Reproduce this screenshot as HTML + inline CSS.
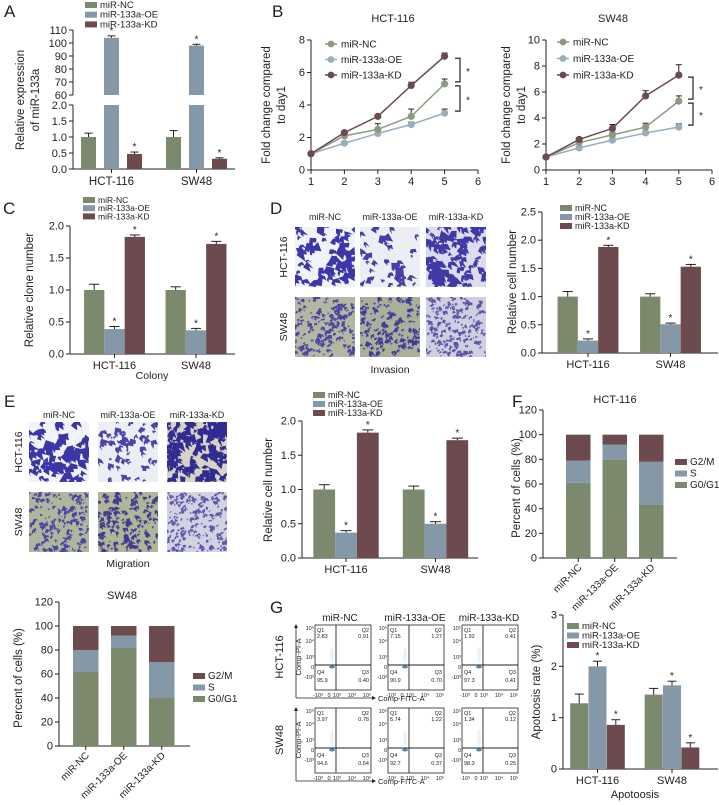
<!DOCTYPE html>
<html><head><meta charset="utf-8"><style>
html,body{margin:0;padding:0;background:#fff}
svg{display:block;font-family:"Liberation Sans",sans-serif}
</style></head><body>
<svg id="fig" width="719" height="805" viewBox="0 0 719 805"></svg>
<script>
// ---------- data ----------
const groups=["HCT-116","SW48"];
const seriesNames=["miR-NC","miR-133a-OE","miR-133a-KD"];
// A
const aNC=[1.0,1.0], aOE=[104,98], aKD=[0.47,0.32];
const aNCerr=[0.12,0.2], aOEerr=[1.5,1.0], aKDerr=[0.06,0.03];
const aTicksUp=[60,70,80,90,100,110], aTicksLow=[0,0.5,1,1.5,2];
// B
const days=[1,2,3,4,5];
const bHctNC=[1,2.1,2.5,3.3,5.3], bHctOE=[1,1.65,2.25,2.8,3.5], bHctKD=[1,2.3,3.3,5.2,7.0];
const bHctNCerr=[0,0.1,0.35,0.45,0.3], bHctOEerr=[0,0.1,0.2,0.15,0.25], bHctKDerr=[0,0.1,0.1,0.2,0.2];
const bSwNC=[1,2.1,2.7,3.3,5.3], bSwOE=[1,1.7,2.3,2.85,3.3], bSwKD=[1,2.35,3.2,5.7,7.3];
const bSwNCerr=[0,0.1,0.2,0.3,0.4], bSwOEerr=[0,0.1,0.15,0.15,0.25], bSwKDerr=[0,0.15,0.3,0.4,0.8];
const bHctYTicks=[0,2,4,6,8], bSwYTicks=[0,2,4,6,8,10], bXTicks=[1,2,3,4,5,6];
// C
const cNC=[1.0,1.0], cOE=[0.39,0.37], cKD=[1.83,1.72];
const cNCerr=[0.09,0.05], cOEerr=[0.04,0.03], cKDerr=[0.03,0.04];
const cTicks=[0,0.5,1,1.5,2];
// D
const dNC=[1.0,1.0], dOE=[0.22,0.51], dKD=[1.88,1.53];
const dNCerr=[0.09,0.05], dOEerr=[0.03,0.02], dKDerr=[0.03,0.04];
const dTicks=[0,0.5,1,1.5,2,2.5];
// E
const eNC=[1.0,1.0], eOE=[0.37,0.50], eKD=[1.83,1.72];
const eNCerr=[0.07,0.05], eOEerr=[0.03,0.03], eKDerr=[0.04,0.03];
const eTicks=[0,0.5,1,1.5,2];
// F (cell cycle)
const cycleCats=["miR-NC","miR-133a-OE","miR-133a-KD"];
const phaseNames=["G2/M","S","G0/G1"];
const fHctG0=[61,80,43], fHctS=[18,12,35], fHctG2=[21,8,22];
const fSwG0=[62,82,40], fSwS=[18,10,30], fSwG2=[20,8,30];
const fTicks=[0,20,40,60,80,100,120];
// G
const gNC=[1.28,1.45], gOE=[2.0,1.63], gKD=[0.86,0.42];
const gNCerr=[0.18,0.12], gOEerr=[0.1,0.08], gKDerr=[0.1,0.09];
const gTicks=[0,1,2,3];
const flowQ1=[["2.83","7.15","1.92"],["3.97","5.74","1.34"]];
const flowQ2=[["0.91","1.27","0.41"],["0.78","1.22","0.12"]];
const flowQ3=[["0.40","0.70","0.41"],["0.64","0.37","0.25"]];
const flowQ4=[["95.9","90.9","97.3"],["94.6","92.7","98.3"]];

// ---------- helpers ----------
const NS='http://www.w3.org/2000/svg';
const svg=document.getElementById('fig');
const COL=['#7b8a6c','#8598a8','#6d4a4e'];
const LCOL=['#8c9a80','#98aebb','#6b4a50'];
function mk(tag,attrs,name,parent){
  const e=document.createElementNS(NS,tag);
  for(const k in attrs)e.setAttribute(k,attrs[k]);
  
  
  (parent||svg).appendChild(e);return e;
}
function txt(x,y,s,size,name,opt){
  opt=opt||{};
  const a={x:x,y:y,'font-size':size,fill:opt.fill||'#222','text-anchor':opt.anchor||'start'};
  if(opt.rot!==undefined)a.transform='rotate('+opt.rot+' '+x+' '+y+')';
  const t=mk('text',a,name);t.textContent=s;return t;
}
function line(x1,y1,x2,y2,name,w,c){return mk('line',{x1:x1,y1:y1,x2:x2,y2:y2,stroke:c||'#222','stroke-width':w||1},name);}
function rect(x,y,w,h,fill,name){return mk('rect',{x:x,y:y,width:w,height:h,fill:fill},name);}
function lin(d0,d1,r0,r1){return v=>r0+(v-d0)*(r1-r0)/(d1-d0);}

function yAxis(ax,yS,ticks,fmt,top,bot,fs){
  line(ax,top,ax,bot,'y-axis');
  ticks.forEach(t=>{const y=yS(t);line(ax-4,y,ax,y,'y-tick');txt(ax-6,y+3.5,fmt(t),fs||10.5,'y-tick-label',{anchor:'end'});});
}
function legendBars(x,y,dy,fs,names,cols){
  names.forEach((n,i)=>{rect(x,y+i*dy-3,12,6,cols[i],'legend-swatch');txt(x+15,y+i*dy+3,n,fs,'legend-label');});
}
function errBar(cx,yTop,yErr,cw,name){line(cx,yTop,cx,yErr,name);line(cx-cw/2,yErr,cx+cw/2,yErr,name+'-cap');}

function barChart(p,vals,errs,stars){
  const yS=lin(0,p.vmax,p.bot,p.top);
  yAxis(p.ax,yS,p.ticks,p.fmt,p.top,p.bot,p.fs);
  line(p.ax,p.bot,p.xEnd,p.bot,'x-axis');
  groups.forEach((g,i)=>{
    const c=p.centers[i];
    line(c,p.bot,c,p.bot+4,'x-tick');
    txt(c,p.bot+15,g,11,'x-tick-label',{anchor:'middle'});
    vals.forEach((arr,s)=>{
      const x=c+(s-1)*p.pitch-p.bw/2, y=yS(arr[i]);
      rect(x,y,p.bw,p.bot-y,COL[s],'bar-'+g.toLowerCase()+'-'+s);
      const ye=yS(arr[i]+errs[s][i]);
      errBar(x+p.bw/2,y,ye,p.bw*0.5,'error-bar');
      if(stars[s])txt(x+p.bw/2,ye-2,'*',10,'significance-star',{anchor:'middle'});
    });
  });
}
function lineChart(p,series,errs){
  const xS=lin(1,6,p.ax,p.xEnd), yS=lin(0,p.vmax,p.bot,p.top);
  yAxis(p.ax,yS,p.yt,v=>String(v),p.top,p.bot,11);
  line(p.ax,p.bot,p.xEnd,p.bot,'x-axis');
  bXTicks.forEach(t=>{line(xS(t),p.bot,xS(t),p.bot+4,'x-tick');txt(xS(t),p.bot+15,String(t),11,'x-tick-label',{anchor:'middle'});});
  [1,0,2].forEach(s=>{
    const arr=series[s];
    mk('polyline',{points:days.map((d,i)=>xS(d)+','+yS(arr[i])).join(' '),fill:'none',stroke:LCOL[s],'stroke-width':1.5},'line-'+seriesNames[s]);
    days.forEach((d,i)=>{
      if(errs[s][i]>0)errBar(xS(d),yS(arr[i]),yS(arr[i]+errs[s][i]),6,'error-bar');
      mk('circle',{cx:xS(d),cy:yS(arr[i]),r:3.6,fill:LCOL[s]},'point');
    });
  });
  seriesNames.forEach((n,i)=>{const y=p.ly+i*p.ldy;line(p.lx-6,y,p.lx+6,y,'legend-line',1.5,LCOL[i]);mk('circle',{cx:p.lx,cy:y,r:3.4,fill:LCOL[i]},'legend-marker');txt(p.lx+10,y+3.5,n,10,'legend-label');});
  const bx=p.bx;
  [[series[2][4],series[0][4]],[series[0][4],series[1][4]]].forEach(pr=>{
    const y1=yS(pr[0])+2,y2=yS(pr[1])-2;
    mk('path',{d:'M'+(bx-5)+' '+y1+'H'+bx+'V'+y2+'H'+(bx-5),fill:'none',stroke:'#222','stroke-width':1.2},'significance-bracket');
    txt(bx+6,(y1+y2)/2+5,'*',10,'significance-star');
  });
}
function stacked(p,g0,s,g2,title){
  const yS=lin(0,120,p.bot,p.top);
  yAxis(p.ax,yS,fTicks,v=>String(v),p.top,p.bot,11);
  line(p.ax,p.bot,p.xEnd,p.bot,'x-axis');
  txt(p.tx,p.ty,title,11,'chart-title',{anchor:'middle'});
  cycleCats.forEach((c,i)=>{
    const x=p.x0+i*p.pitch, cx=x+p.bw/2;
    const a=g0[i], b=s[i], d=g2[i];
    rect(x,yS(a),p.bw,p.bot-yS(a),COL[0],'bar-g0g1');
    rect(x,yS(a+b),p.bw,yS(a)-yS(a+b),COL[1],'bar-s');
    rect(x,yS(a+b+d),p.bw,yS(a+b)-yS(a+b+d),COL[2],'bar-g2m');
    line(cx,p.bot,cx,p.bot+4,'x-tick');
    txt(cx+4,p.bot+10,c,10,'x-tick-label',{anchor:'end',rot:-45});
  });
  legendBars(p.lx,p.ly,11.5,10,phaseNames,[COL[2],COL[1],COL[0]]);
  txt(p.ylx,(p.top+p.bot)/2+4,'Percent of cells (%)',11.5,'y-axis-title',{anchor:'middle',rot:-90});
}
let seed=7;function rnd(){seed=(seed*16807)%2147483647;return seed/2147483647;}
function micro(x,y,w,h,bg,fg,n,size,name){
  const g=mk('g',{},name);
  mk('rect',{x:x,y:y,width:w,height:h,fill:bg},'micrograph-bg',g);
  let d='';
  for(let i=0;i<n;i++){
    const cx=x+rnd()*w, cy=y+rnd()*h, r=size*(0.4+rnd()*0.8);
    d+='M'+cx.toFixed(1)+' '+cy.toFixed(1);
    for(let k=1;k<=5;k++){const a=k*1.256+rnd()*0.6, rr=r*(0.3+rnd()*0.8);d+='L'+Math.max(x,Math.min(x+w,cx+Math.cos(a)*rr)).toFixed(1)+' '+Math.max(y,Math.min(y+h,cy+Math.sin(a)*rr)).toFixed(1);}
    d+='Z';
  }
  mk('path',{d:d,fill:fg},'micrograph-cells',g);
}

// ---------- panel letters ----------
[['A',4,17],['B',272,17],['C',3,214],['D',270,214],['E',4,407],['F',512,407],['G',270,613]].forEach(l=>txt(l[1],l[2],l[0],17,'panel-label-'+l[0].toLowerCase()));

// ---------- A ----------
(function(){
  const ax=73,yLow=lin(0,2,169,105),yUp=lin(60,110,95,30);
  line(ax,30,ax,95,'y-axis-upper');line(ax,105,ax,169,'y-axis-lower');
  aTicksUp.forEach(t=>{line(ax-4,yUp(t),ax,yUp(t),'y-tick');txt(ax-6,yUp(t)+4,String(t),11,'y-tick-label',{anchor:'end'});});
  aTicksLow.forEach(t=>{line(ax-4,yLow(t),ax,yLow(t),'y-tick');txt(ax-6,yLow(t)+4,t.toFixed(1),11,'y-tick-label',{anchor:'end'});});
  line(ax,169,235,169,'x-axis');
  const centers=[111.5,196.5],vals=[aNC,aOE,aKD],errs=[aNCerr,aOEerr,aKDerr];
  groups.forEach((g,i)=>{
    const c=centers[i];line(c,169,c,173,'x-tick');txt(c,185,g,11.5,'x-tick-label',{anchor:'middle'});
    vals.forEach((arr,s)=>{
      const v=arr[i],x=c+(s-1)*23-7.5;
      if(v<=2){const y=yLow(v);rect(x,y,15,169-y,COL[s],'bar');const ye=yLow(v+errs[s][i]);errBar(x+7.5,y,ye,8,'error-bar');if(s)txt(x+7.5,ye-2,'*',10,'significance-star',{anchor:'middle'});}
      else{rect(x,105,15,64,COL[s],'bar-lower');const y=yUp(v);rect(x,y,15,95-y,COL[s],'bar-upper');const ye=yUp(v+errs[s][i]);errBar(x+7.5,y,ye,8,'error-bar');txt(x+7.5,ye-2,'*',10,'significance-star',{anchor:'middle'});}
    });
  });
  legendBars(85,5,9.7,9.5,seriesNames,COL);
  txt(24,100,'Relative expression',11.5,'y-axis-title',{anchor:'middle',rot:-90});
  txt(39,100,'of miR-133a',11.5,'y-axis-title',{anchor:'middle',rot:-90});
})();

// ---------- B ----------
txt(393,22,'HCT-116',11,'chart-title',{anchor:'middle'});
txt(613,22,'SW48',11,'chart-title',{anchor:'middle'});
lineChart({ax:311,xEnd:478,top:40,bot:170,vmax:8,yt:bHctYTicks,lx:331,ly:44,ldy:15.5,bx:460},[bHctNC,bHctOE,bHctKD],[bHctNCerr,bHctOEerr,bHctKDerr]);
lineChart({ax:546,xEnd:712,top:40,bot:170,vmax:10,yt:bSwYTicks,lx:563,ly:42,ldy:16.5,bx:693},[bSwNC,bSwOE,bSwKD],[bSwNCerr,bSwOEerr,bSwKDerr]);
txt(270,105,'Fold change compared',11.5,'y-axis-title',{anchor:'middle',rot:-90});
txt(285,105,'to day1',11.5,'y-axis-title',{anchor:'middle',rot:-90});
txt(510,105,'Fold change compared',11.5,'y-axis-title',{anchor:'middle',rot:-90});
txt(525,105,'to day1',11.5,'y-axis-title',{anchor:'middle',rot:-90});

// ---------- C ----------
barChart({ax:70,top:226,bot:354,vmax:2,ticks:cTicks,fmt:v=>v.toFixed(1),xEnd:235,centers:[114.5,196],bw:20.3,pitch:20.3,fs:11},[cNC,cOE,cKD],[cNCerr,cOEerr,cKDerr],[0,1,1]);
legendBars(83,200,8.2,8.5,seriesNames,COL);
txt(152,379,'Colony',10.5,'x-axis-title',{anchor:'middle'});
txt(33,290,'Relative clone number',11.5,'y-axis-title',{anchor:'middle',rot:-90});

// ---------- D ----------
const microStyles=[
  [['#f2f3f8','#3c37a8',62,8],['#eceef3','#4540a6',40,6.5],['#dcdcec','#3f3aa6',95,7]],
  [['#b4b8a2','#4b45a0',170,3.3],['#aab09a','#413c98',150,3.6],['#cfcfe0','#5a55a8',200,3]]
];
const migStyles=[
  [['#f2f3f8','#3a36a6',70,8],['#eceef3','#4a46a8',65,5.5],['#d8d3c4','#302c92',110,7.5]],
  [['#b0b69e','#4a45a0',170,3.3],['#b2b698','#403c92',150,3.6],['#d2d2e2','#5c58aa',210,3]]
];
[[295,360,426]].forEach(xs=>{
  seriesNames.forEach((n,j)=>txt(xs[j]+30,220,n,9,'column-header',{anchor:'middle'}));
  [227,297].forEach((y,r)=>xs.forEach((x,j)=>{const s=microStyles[r][j];micro(x,y,60,60,s[0],s[1],s[2],s[3],'invasion-micrograph');}));
});
txt(287,257,'HCT-116',10.5,'row-label',{anchor:'middle',rot:-90});
txt(287,327,'SW48',10.5,'row-label',{anchor:'middle',rot:-90});
txt(390,373,'Invasion',10.5,'image-caption',{anchor:'middle'});
barChart({ax:542,top:212,bot:353,vmax:2.5,ticks:dTicks,fmt:v=>v.toFixed(1),xEnd:718,centers:[588,670.5],bw:20.3,pitch:20.3,fs:11},[dNC,dOE,dKD],[dNCerr,dOEerr,dKDerr],[0,1,1]);
legendBars(560,208,9,9,seriesNames,COL);
txt(516,282,'Relative cell number',11.5,'y-axis-title',{anchor:'middle',rot:-90});

// ---------- E ----------
[[29,98,167]].forEach(xs=>{
  seriesNames.forEach((n,j)=>txt(xs[j]+30,418,n,9,'column-header',{anchor:'middle'}));
  [422,492].forEach((y,r)=>xs.forEach((x,j)=>{const s=migStyles[r][j];micro(x,y,60,60,s[0],s[1],s[2],s[3],'migration-micrograph');}));
});
txt(22,452,'HCT-116',10.5,'row-label',{anchor:'middle',rot:-90});
txt(22,522,'SW48',10.5,'row-label',{anchor:'middle',rot:-90});
txt(128,567,'Migration',10.5,'image-caption',{anchor:'middle'});
barChart({ax:302,top:421,bot:558,vmax:2,ticks:eTicks,fmt:v=>v.toFixed(1),xEnd:478,centers:[346,435.5],bw:21.8,pitch:21.8,fs:11},[eNC,eOE,eKD],[eNCerr,eOEerr,eKDerr],[0,1,1]);
legendBars(313,395,9,9,seriesNames,COL);
txt(272,490,'Relative cell number',11.5,'y-axis-title',{anchor:'middle',rot:-90});

// ---------- F ----------
stacked({ax:543,top:410,bot:558,xEnd:677,x0:566,pitch:36.5,bw:24.5,tx:615,ty:403,lx:675,ly:462,ylx:520},fHctG0,fHctS,fHctG2,'HCT-116');
stacked({ax:59,top:602,bot:746,xEnd:190,x0:73,pitch:38,bw:25.5,tx:122,ty:599,lx:193,ly:676,ylx:22},fSwG0,fSwS,fSwG2,'SW48');

// ---------- G flow plots ----------
seriesNames.forEach((n,j)=>txt([340,415,489][j],621,n,10,'column-header',{anchor:'middle'}));
[[625,'HCT-116',698],[708,'SW48',781]].forEach((row,r)=>{
  const y0=row[0];
  txt(283,y0+32,row[1],11,'row-label',{anchor:'middle',rot:-90});
  txt(301,y0+32,'Comp-PI-A',7.5,'axis-title',{anchor:'middle',rot:-90});
  line(296,row[2],296,y0,'arrow-axis-y',0.8);
  mk('path',{d:'M294 '+(y0+3)+'L296 '+(y0-1)+'L298 '+(y0+3)+'Z',fill:'#222'},'arrow-head');
  line(296,row[2],375,row[2],'arrow-axis-x',0.8);
  mk('path',{d:'M372 '+(row[2]-2)+'L376 '+row[2]+'L372 '+(row[2]+2)+'Z',fill:'#222'},'arrow-head');
  txt(378,row[2]+3,'Comp-FITC-A',7.5,'axis-title');
  [315,388,462].forEach((x0,j)=>{
    const w=56,h=65;
    mk('rect',{x:x0,y:y0,width:w,height:h,fill:'#fff',stroke:'#222','stroke-width':0.8},'flow-plot');
    mk('ellipse',{cx:x0+17,cy:y0+30,rx:2,ry:8,fill:'#eef1f6'},'flow-scatter');
    mk('ellipse',{cx:x0+17,cy:y0+42,rx:3,ry:1.5,fill:'#5a88b5'},'flow-population');
    line(x0+21,y0,x0+21,y0+h,'quadrant-line',0.9);
    line(x0,y0+40,x0+w,y0+40,'quadrant-line',0.9);
    txt(x0+2,y0+7,'Q1',5.5,'quadrant-label');txt(x0+2,y0+13,flowQ1[r][j],5.5,'quadrant-value');
    txt(x0+w-2,y0+7,'Q2',5.5,'quadrant-label',{anchor:'end'});txt(x0+w-2,y0+13,flowQ2[r][j],5.5,'quadrant-value',{anchor:'end'});
    txt(x0+2,y0+49,'Q4',5.5,'quadrant-label');txt(x0+2,y0+57,flowQ4[r][j],5.5,'quadrant-value');
    txt(x0+w-2,y0+49,'Q3',5.5,'quadrant-label',{anchor:'end'});txt(x0+w-2,y0+57,flowQ3[r][j],5.5,'quadrant-value',{anchor:'end'});
    [['10⁵',3],['10⁴',16],['10³',32],['0',42],['-10³',52]].forEach(t=>txt(x0-1,y0+t[1]+2,t[0],5.5,'flow-y-tick',{anchor:'end'}));
    [['-10³',3],['0',14],['10³',22],['10⁴',37],['10⁵',52]].forEach(t=>txt(x0+t[1],y0+h+7,t[0],5.5,'flow-x-tick',{anchor:'middle'}));
  });
});
// ---------- G bar ----------
barChart({ax:563,top:615,bot:769,vmax:3,ticks:gTicks,fmt:v=>String(v),xEnd:718,centers:[597.5,672],bw:18,pitch:18.3,fs:11},[gNC,gOE,gKD],[gNCerr,gOEerr,gKDerr],[0,1,1]);
legendBars(567,626,9.5,9.5,seriesNames,COL);
txt(635,798,'Apotoosis',11,'x-axis-title',{anchor:'middle'});
txt(540,692,'Apotoosis rate (%)',11.5,'y-axis-title',{anchor:'middle',rot:-90});
</script>
</body></html>
